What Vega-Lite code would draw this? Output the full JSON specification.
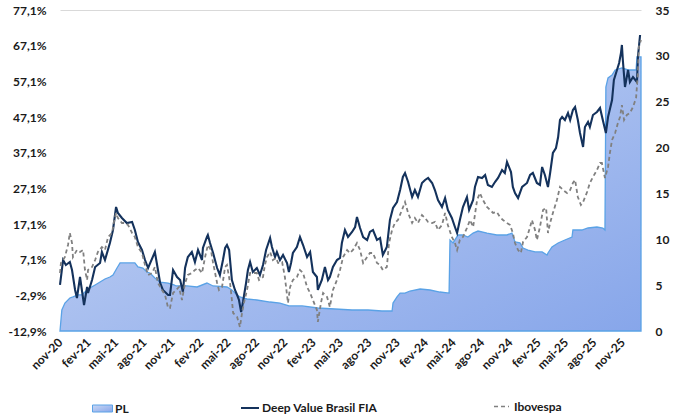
{
  "$schema": "https://vega.github.io/schema/vega-lite/v6.json",
  "width": 581,
  "height": 321,
  "autosize": {"type": "none"},
  "padding": {"left": 60, "top": 10, "right": 41, "bottom": 83},
  "background": "white",
  "config": {
    "view": {"stroke": null},
    "font": "Lato",
    "axis": {"labelFont": "Lato", "labelFontSize": 12, "labelFontWeight": "bold", "labelColor": "#1a1a1a", "ticks": false, "domain": false, "title": null},
    "legend": {"labelFont": "Lato", "labelFontSize": 12, "labelFontWeight": "bold", "labelColor": "#1a1a1a", "padding": 0, "title": null}
  },
  "datasets": {
    "dv": [
      {"date": "2020-11-01", "v": 0.0}, {"date": "2020-11-11", "v": 7.0}, {"date": "2020-11-20", "v": 5.6}, {"date": "2020-12-03", "v": 6.44}, {"date": "2020-12-10", "v": 4.2}, {"date": "2020-12-20", "v": -1.4}, {"date": "2020-12-26", "v": -3.65}, {"date": "2021-01-05", "v": 2.24}, {"date": "2021-01-11", "v": -1.4}, {"date": "2021-01-18", "v": -5.61}, {"date": "2021-01-28", "v": -0.56}, {"date": "2021-01-31", "v": -2.25}, {"date": "2021-02-13", "v": 1.4}, {"date": "2021-02-23", "v": 5.04}, {"date": "2021-03-11", "v": 6.16}, {"date": "2021-03-17", "v": 9.25}, {"date": "2021-03-27", "v": 7.0}, {"date": "2021-04-12", "v": 11.77}, {"date": "2021-04-22", "v": 15.42}, {"date": "2021-05-02", "v": 21.87}, {"date": "2021-05-08", "v": 20.19}, {"date": "2021-05-21", "v": 18.78}, {"date": "2021-06-06", "v": 17.38}, {"date": "2021-06-23", "v": 17.66}, {"date": "2021-07-02", "v": 15.42}, {"date": "2021-07-12", "v": 12.05}, {"date": "2021-07-25", "v": 9.81}, {"date": "2021-08-04", "v": 7.0}, {"date": "2021-08-14", "v": 4.76}, {"date": "2021-09-05", "v": 9.25}, {"date": "2021-09-15", "v": 4.2}, {"date": "2021-09-22", "v": 0.56}, {"date": "2021-10-01", "v": -1.4}, {"date": "2021-10-18", "v": -2.81}, {"date": "2021-10-24", "v": -2.81}, {"date": "2021-11-03", "v": 4.2}, {"date": "2021-11-16", "v": 2.24}, {"date": "2021-11-26", "v": 1.4}, {"date": "2021-12-05", "v": -1.97}, {"date": "2021-12-12", "v": 4.76}, {"date": "2021-12-21", "v": 7.85}, {"date": "2022-01-03", "v": 9.25}, {"date": "2022-01-13", "v": 6.44}, {"date": "2022-01-23", "v": 9.81}, {"date": "2022-02-05", "v": 7.0}, {"date": "2022-02-08", "v": 10.37}, {"date": "2022-02-21", "v": 13.46}, {"date": "2022-02-24", "v": 14.02}, {"date": "2022-03-03", "v": 11.77}, {"date": "2022-03-13", "v": 8.97}, {"date": "2022-03-26", "v": 4.76}, {"date": "2022-04-04", "v": 2.8}, {"date": "2022-04-14", "v": 7.0}, {"date": "2022-04-21", "v": 10.37}, {"date": "2022-04-27", "v": 11.21}, {"date": "2022-05-04", "v": 9.81}, {"date": "2022-05-13", "v": 1.4}, {"date": "2022-05-23", "v": -1.4}, {"date": "2022-05-30", "v": -2.81}, {"date": "2022-06-05", "v": -4.21}, {"date": "2022-06-12", "v": -7.57}, {"date": "2022-06-18", "v": -4.77}, {"date": "2022-06-28", "v": 0.56}, {"date": "2022-07-04", "v": 4.2}, {"date": "2022-07-11", "v": 6.44}, {"date": "2022-07-20", "v": 3.64}, {"date": "2022-08-02", "v": 4.76}, {"date": "2022-08-12", "v": 2.8}, {"date": "2022-08-22", "v": 5.6}, {"date": "2022-09-01", "v": 9.81}, {"date": "2022-09-14", "v": 13.18}, {"date": "2022-09-20", "v": 10.65}, {"date": "2022-09-30", "v": 7.85}, {"date": "2022-10-06", "v": 9.25}, {"date": "2022-10-16", "v": 7.0}, {"date": "2022-10-26", "v": 8.41}, {"date": "2022-11-08", "v": 6.16}, {"date": "2022-11-14", "v": 3.64}, {"date": "2022-11-21", "v": 6.16}, {"date": "2022-11-27", "v": 8.97}, {"date": "2022-12-10", "v": 10.65}, {"date": "2022-12-20", "v": 13.46}, {"date": "2022-12-30", "v": 11.21}, {"date": "2023-01-12", "v": 7.85}, {"date": "2023-01-22", "v": 9.25}, {"date": "2023-01-31", "v": 3.64}, {"date": "2023-02-13", "v": 2.24}, {"date": "2023-02-16", "v": -1.4}, {"date": "2023-03-01", "v": 1.4}, {"date": "2023-03-11", "v": 5.04}, {"date": "2023-03-21", "v": 1.4}, {"date": "2023-03-27", "v": 2.24}, {"date": "2023-04-06", "v": 5.04}, {"date": "2023-04-19", "v": 7.0}, {"date": "2023-04-29", "v": 7.57}, {"date": "2023-05-05", "v": 11.77}, {"date": "2023-05-15", "v": 15.42}, {"date": "2023-05-25", "v": 13.46}, {"date": "2023-06-07", "v": 14.86}, {"date": "2023-06-17", "v": 16.26}, {"date": "2023-06-23", "v": 19.06}, {"date": "2023-07-03", "v": 15.98}, {"date": "2023-07-13", "v": 13.46}, {"date": "2023-07-26", "v": 12.61}, {"date": "2023-08-04", "v": 14.86}, {"date": "2023-08-14", "v": 15.42}, {"date": "2023-08-27", "v": 12.61}, {"date": "2023-09-06", "v": 13.18}, {"date": "2023-09-15", "v": 8.41}, {"date": "2023-09-28", "v": 10.65}, {"date": "2023-10-08", "v": 18.22}, {"date": "2023-10-18", "v": 21.59}, {"date": "2023-10-31", "v": 23.27}, {"date": "2023-11-10", "v": 26.63}, {"date": "2023-11-19", "v": 30.28}, {"date": "2023-11-26", "v": 31.4}, {"date": "2023-12-06", "v": 28.88}, {"date": "2023-12-19", "v": 24.67}, {"date": "2023-12-28", "v": 26.63}, {"date": "2024-01-07", "v": 24.67}, {"date": "2024-01-20", "v": 28.6}, {"date": "2024-01-30", "v": 29.44}, {"date": "2024-02-09", "v": 30.0}, {"date": "2024-02-22", "v": 28.6}, {"date": "2024-03-02", "v": 26.63}, {"date": "2024-03-12", "v": 23.83}, {"date": "2024-03-25", "v": 21.87}, {"date": "2024-04-04", "v": 24.39}, {"date": "2024-04-13", "v": 21.03}, {"date": "2024-04-26", "v": 18.78}, {"date": "2024-05-06", "v": 16.26}, {"date": "2024-05-13", "v": 14.58}, {"date": "2024-05-22", "v": 18.22}, {"date": "2024-06-01", "v": 21.87}, {"date": "2024-06-14", "v": 24.67}, {"date": "2024-06-21", "v": 21.03}, {"date": "2024-07-04", "v": 23.83}, {"date": "2024-07-10", "v": 27.48}, {"date": "2024-07-20", "v": 30.28}, {"date": "2024-08-02", "v": 30.0}, {"date": "2024-08-12", "v": 30.84}, {"date": "2024-08-21", "v": 28.04}, {"date": "2024-09-03", "v": 27.48}, {"date": "2024-09-13", "v": 28.88}, {"date": "2024-09-23", "v": 30.0}, {"date": "2024-10-06", "v": 32.24}, {"date": "2024-10-15", "v": 31.4}, {"date": "2024-10-22", "v": 34.48}, {"date": "2024-11-04", "v": 31.68}, {"date": "2024-11-10", "v": 27.48}, {"date": "2024-11-17", "v": 25.79}, {"date": "2024-11-27", "v": 24.39}, {"date": "2024-12-10", "v": 27.48}, {"date": "2024-12-26", "v": 28.6}, {"date": "2025-01-05", "v": 30.84}, {"date": "2025-01-14", "v": 31.4}, {"date": "2025-01-27", "v": 28.6}, {"date": "2025-02-06", "v": 28.04}, {"date": "2025-02-13", "v": 33.09}, {"date": "2025-02-22", "v": 30.84}, {"date": "2025-03-04", "v": 27.48}, {"date": "2025-03-11", "v": 31.4}, {"date": "2025-03-20", "v": 37.01}, {"date": "2025-03-30", "v": 38.41}, {"date": "2025-04-06", "v": 41.49}, {"date": "2025-04-12", "v": 46.26}, {"date": "2025-04-19", "v": 47.1}, {"date": "2025-04-28", "v": 46.26}, {"date": "2025-05-08", "v": 48.22}, {"date": "2025-05-15", "v": 46.26}, {"date": "2025-05-24", "v": 49.06}, {"date": "2025-05-31", "v": 49.9}, {"date": "2025-06-09", "v": 46.26}, {"date": "2025-06-16", "v": 42.61}, {"date": "2025-06-26", "v": 38.69}, {"date": "2025-07-02", "v": 44.3}, {"date": "2025-07-12", "v": 45.7}, {"date": "2025-07-18", "v": 44.3}, {"date": "2025-07-28", "v": 47.66}, {"date": "2025-08-10", "v": 48.5}, {"date": "2025-08-20", "v": 49.62}, {"date": "2025-08-29", "v": 46.26}, {"date": "2025-09-08", "v": 42.61}, {"date": "2025-09-15", "v": 47.1}, {"date": "2025-09-28", "v": 51.87}, {"date": "2025-10-04", "v": 57.47}, {"date": "2025-10-14", "v": 60.28}, {"date": "2025-10-21", "v": 62.24}, {"date": "2025-10-27", "v": 65.04}, {"date": "2025-10-30", "v": 67.29}, {"date": "2025-11-02", "v": 63.08}, {"date": "2025-11-09", "v": 55.51}, {"date": "2025-11-19", "v": 60.28}, {"date": "2025-11-25", "v": 56.91}, {"date": "2025-12-05", "v": 58.32}, {"date": "2025-12-18", "v": 56.91}, {"date": "2025-12-21", "v": 63.92}, {"date": "2025-12-28", "v": 70.09}
    ],
    "ib": [
      {"date": "2020-11-01", "v": 3.36}, {"date": "2020-11-04", "v": 6.16}, {"date": "2020-11-17", "v": 7.85}, {"date": "2020-11-27", "v": 11.21}, {"date": "2020-12-03", "v": 14.58}, {"date": "2020-12-10", "v": 11.77}, {"date": "2020-12-13", "v": 7.85}, {"date": "2020-12-26", "v": 9.81}, {"date": "2021-01-05", "v": 9.25}, {"date": "2021-01-15", "v": 9.81}, {"date": "2021-01-21", "v": 4.2}, {"date": "2021-01-28", "v": 1.4}, {"date": "2021-01-31", "v": 4.2}, {"date": "2021-02-13", "v": 5.04}, {"date": "2021-02-23", "v": 7.0}, {"date": "2021-03-04", "v": 9.25}, {"date": "2021-03-17", "v": 10.65}, {"date": "2021-03-27", "v": 9.81}, {"date": "2021-04-06", "v": 13.46}, {"date": "2021-04-19", "v": 14.58}, {"date": "2021-04-25", "v": 17.66}, {"date": "2021-05-02", "v": 20.19}, {"date": "2021-05-08", "v": 18.78}, {"date": "2021-05-21", "v": 17.38}, {"date": "2021-05-31", "v": 17.38}, {"date": "2021-06-10", "v": 16.82}, {"date": "2021-06-23", "v": 14.58}, {"date": "2021-07-02", "v": 13.46}, {"date": "2021-07-12", "v": 10.65}, {"date": "2021-07-25", "v": 8.97}, {"date": "2021-08-04", "v": 5.6}, {"date": "2021-08-14", "v": 2.8}, {"date": "2021-08-27", "v": 3.36}, {"date": "2021-09-05", "v": 5.04}, {"date": "2021-09-15", "v": 0.56}, {"date": "2021-09-28", "v": -1.4}, {"date": "2021-10-08", "v": -2.81}, {"date": "2021-10-18", "v": -6.45}, {"date": "2021-10-24", "v": -6.45}, {"date": "2021-11-03", "v": -2.25}, {"date": "2021-11-13", "v": -1.4}, {"date": "2021-11-22", "v": -0.56}, {"date": "2021-12-02", "v": -4.21}, {"date": "2021-12-12", "v": 0.56}, {"date": "2021-12-21", "v": 2.8}, {"date": "2022-01-03", "v": 3.36}, {"date": "2022-01-13", "v": 4.2}, {"date": "2022-01-23", "v": 4.76}, {"date": "2022-02-05", "v": 3.36}, {"date": "2022-02-15", "v": 7.85}, {"date": "2022-02-24", "v": 11.21}, {"date": "2022-03-06", "v": 9.81}, {"date": "2022-03-13", "v": 6.16}, {"date": "2022-03-26", "v": 0.56}, {"date": "2022-04-01", "v": -1.4}, {"date": "2022-04-11", "v": -0.56}, {"date": "2022-04-21", "v": 5.04}, {"date": "2022-04-27", "v": 5.6}, {"date": "2022-05-07", "v": 0.56}, {"date": "2022-05-13", "v": -4.21}, {"date": "2022-05-17", "v": -7.85}, {"date": "2022-05-30", "v": -8.97}, {"date": "2022-06-08", "v": -11.78}, {"date": "2022-06-15", "v": -7.85}, {"date": "2022-06-21", "v": -5.05}, {"date": "2022-07-01", "v": -1.4}, {"date": "2022-07-11", "v": 3.36}, {"date": "2022-07-20", "v": 3.36}, {"date": "2022-08-02", "v": 3.36}, {"date": "2022-08-09", "v": 1.4}, {"date": "2022-08-22", "v": 2.24}, {"date": "2022-08-28", "v": 5.6}, {"date": "2022-09-04", "v": 7.85}, {"date": "2022-09-14", "v": 9.25}, {"date": "2022-09-23", "v": 7.0}, {"date": "2022-10-03", "v": 7.57}, {"date": "2022-10-10", "v": 6.16}, {"date": "2022-10-23", "v": 6.44}, {"date": "2022-11-01", "v": 2.24}, {"date": "2022-11-11", "v": -5.05}, {"date": "2022-11-18", "v": -0.56}, {"date": "2022-11-27", "v": 1.4}, {"date": "2022-12-10", "v": 2.24}, {"date": "2022-12-20", "v": 4.2}, {"date": "2022-12-30", "v": 3.36}, {"date": "2023-01-12", "v": -0.56}, {"date": "2023-01-22", "v": -2.25}, {"date": "2023-01-31", "v": -4.21}, {"date": "2023-02-13", "v": -7.01}, {"date": "2023-02-16", "v": -10.37}, {"date": "2023-02-26", "v": -5.05}, {"date": "2023-03-05", "v": -2.25}, {"date": "2023-03-18", "v": -3.37}, {"date": "2023-03-27", "v": -6.17}, {"date": "2023-04-06", "v": -1.4}, {"date": "2023-04-19", "v": 1.4}, {"date": "2023-04-29", "v": 4.2}, {"date": "2023-05-09", "v": 7.85}, {"date": "2023-05-22", "v": 9.81}, {"date": "2023-05-31", "v": 8.97}, {"date": "2023-06-10", "v": 9.81}, {"date": "2023-06-23", "v": 11.77}, {"date": "2023-07-03", "v": 9.81}, {"date": "2023-07-13", "v": 6.16}, {"date": "2023-07-26", "v": 7.85}, {"date": "2023-08-04", "v": 8.97}, {"date": "2023-08-14", "v": 8.97}, {"date": "2023-08-27", "v": 6.16}, {"date": "2023-09-06", "v": 5.6}, {"date": "2023-09-15", "v": 4.2}, {"date": "2023-09-28", "v": 5.04}, {"date": "2023-10-05", "v": 11.77}, {"date": "2023-10-15", "v": 15.42}, {"date": "2023-10-24", "v": 17.38}, {"date": "2023-11-03", "v": 18.22}, {"date": "2023-11-16", "v": 21.03}, {"date": "2023-11-26", "v": 23.27}, {"date": "2023-12-06", "v": 20.19}, {"date": "2023-12-19", "v": 17.38}, {"date": "2023-12-28", "v": 18.78}, {"date": "2024-01-07", "v": 17.38}, {"date": "2024-01-20", "v": 19.62}, {"date": "2024-01-30", "v": 18.78}, {"date": "2024-02-09", "v": 17.66}, {"date": "2024-02-22", "v": 17.38}, {"date": "2024-03-02", "v": 17.66}, {"date": "2024-03-12", "v": 15.42}, {"date": "2024-03-25", "v": 16.82}, {"date": "2024-04-04", "v": 20.19}, {"date": "2024-04-13", "v": 16.82}, {"date": "2024-04-26", "v": 13.46}, {"date": "2024-05-06", "v": 11.77}, {"date": "2024-05-13", "v": 9.81}, {"date": "2024-05-22", "v": 12.61}, {"date": "2024-06-01", "v": 13.46}, {"date": "2024-06-14", "v": 15.98}, {"date": "2024-06-24", "v": 18.22}, {"date": "2024-07-04", "v": 16.26}, {"date": "2024-07-17", "v": 23.83}, {"date": "2024-07-26", "v": 25.79}, {"date": "2024-08-05", "v": 23.83}, {"date": "2024-08-18", "v": 21.87}, {"date": "2024-08-28", "v": 21.03}, {"date": "2024-09-07", "v": 20.19}, {"date": "2024-09-19", "v": 20.47}, {"date": "2024-09-29", "v": 19.06}, {"date": "2024-10-09", "v": 18.22}, {"date": "2024-10-22", "v": 17.38}, {"date": "2024-11-01", "v": 16.82}, {"date": "2024-11-10", "v": 14.58}, {"date": "2024-11-17", "v": 11.77}, {"date": "2024-11-27", "v": 9.81}, {"date": "2024-12-06", "v": 8.97}, {"date": "2024-12-13", "v": 12.05}, {"date": "2024-12-26", "v": 13.46}, {"date": "2025-01-05", "v": 16.26}, {"date": "2025-01-11", "v": 18.22}, {"date": "2025-01-21", "v": 15.42}, {"date": "2025-01-27", "v": 12.61}, {"date": "2025-02-06", "v": 16.26}, {"date": "2025-02-16", "v": 21.03}, {"date": "2025-02-26", "v": 21.59}, {"date": "2025-03-04", "v": 14.58}, {"date": "2025-03-11", "v": 17.38}, {"date": "2025-03-20", "v": 20.19}, {"date": "2025-04-02", "v": 23.83}, {"date": "2025-04-12", "v": 27.48}, {"date": "2025-04-22", "v": 26.63}, {"date": "2025-05-05", "v": 25.79}, {"date": "2025-05-15", "v": 26.63}, {"date": "2025-05-24", "v": 28.6}, {"date": "2025-05-31", "v": 29.44}, {"date": "2025-06-09", "v": 24.67}, {"date": "2025-06-19", "v": 22.43}, {"date": "2025-06-26", "v": 23.27}, {"date": "2025-07-09", "v": 26.07}, {"date": "2025-07-18", "v": 28.6}, {"date": "2025-07-28", "v": 30.28}, {"date": "2025-08-10", "v": 32.24}, {"date": "2025-08-20", "v": 34.2}, {"date": "2025-08-26", "v": 34.2}, {"date": "2025-09-05", "v": 30.0}, {"date": "2025-09-15", "v": 33.09}, {"date": "2025-09-21", "v": 37.01}, {"date": "2025-09-28", "v": 40.65}, {"date": "2025-10-08", "v": 42.61}, {"date": "2025-10-17", "v": 45.42}, {"date": "2025-10-24", "v": 47.1}, {"date": "2025-10-30", "v": 50.46}, {"date": "2025-11-06", "v": 46.26}, {"date": "2025-11-15", "v": 47.66}, {"date": "2025-11-25", "v": 48.22}, {"date": "2025-12-05", "v": 49.9}, {"date": "2025-12-15", "v": 52.43}, {"date": "2025-12-21", "v": 59.44}, {"date": "2025-12-24", "v": 66.73}, {"date": "2025-12-31", "v": 68.69}
    ],
    "pl": [
      {"date": "2020-11-01", "pl": 0}, {"date": "2020-11-07", "pl": 2.29}, {"date": "2020-11-17", "pl": 3.05}, {"date": "2020-12-03", "pl": 3.6}, {"date": "2020-12-13", "pl": 3.71}, {"date": "2020-12-29", "pl": 3.93}, {"date": "2021-01-11", "pl": 3.93}, {"date": "2021-01-21", "pl": 4.25}, {"date": "2021-02-06", "pl": 4.69}, {"date": "2021-02-23", "pl": 5.02}, {"date": "2021-03-11", "pl": 5.34}, {"date": "2021-03-27", "pl": 5.67}, {"date": "2021-04-12", "pl": 5.89}, {"date": "2021-04-22", "pl": 6.11}, {"date": "2021-05-05", "pl": 6.87}, {"date": "2021-05-15", "pl": 7.42}, {"date": "2021-05-31", "pl": 7.42}, {"date": "2021-06-16", "pl": 7.42}, {"date": "2021-07-02", "pl": 7.42}, {"date": "2021-07-12", "pl": 6.98}, {"date": "2021-07-28", "pl": 6.87}, {"date": "2021-08-10", "pl": 6.43}, {"date": "2021-08-20", "pl": 6.32}, {"date": "2021-09-05", "pl": 5.78}, {"date": "2021-09-22", "pl": 5.34}, {"date": "2021-10-18", "pl": 5.23}, {"date": "2021-11-06", "pl": 5.02}, {"date": "2021-11-13", "pl": 4.91}, {"date": "2021-12-18", "pl": 4.91}, {"date": "2022-01-20", "pl": 4.8}, {"date": "2022-02-21", "pl": 5.23}, {"date": "2022-03-13", "pl": 4.91}, {"date": "2022-04-27", "pl": 4.8}, {"date": "2022-05-13", "pl": 4.47}, {"date": "2022-05-30", "pl": 3.93}, {"date": "2022-06-08", "pl": 3.71}, {"date": "2022-06-18", "pl": 3.6}, {"date": "2022-07-01", "pl": 3.49}, {"date": "2022-08-02", "pl": 3.38}, {"date": "2022-09-14", "pl": 3.16}, {"date": "2022-10-16", "pl": 3.05}, {"date": "2022-11-14", "pl": 2.73}, {"date": "2022-12-27", "pl": 2.73}, {"date": "2023-02-16", "pl": 2.51}, {"date": "2023-04-13", "pl": 2.4}, {"date": "2023-06-07", "pl": 2.29}, {"date": "2023-07-29", "pl": 2.29}, {"date": "2023-09-12", "pl": 2.18}, {"date": "2023-10-15", "pl": 2.18}, {"date": "2023-10-18", "pl": 3.05}, {"date": "2023-10-31", "pl": 3.71}, {"date": "2023-11-10", "pl": 4.14}, {"date": "2023-11-26", "pl": 4.14}, {"date": "2023-12-12", "pl": 4.36}, {"date": "2024-01-14", "pl": 4.58}, {"date": "2024-02-15", "pl": 4.47}, {"date": "2024-03-18", "pl": 4.25}, {"date": "2024-04-17", "pl": 4.14}, {"date": "2024-04-20", "pl": 9.92}, {"date": "2024-04-30", "pl": 9.6}, {"date": "2024-05-16", "pl": 10.47}, {"date": "2024-06-01", "pl": 10.47}, {"date": "2024-06-17", "pl": 10.25}, {"date": "2024-07-04", "pl": 10.68}, {"date": "2024-07-20", "pl": 10.9}, {"date": "2024-08-18", "pl": 10.68}, {"date": "2024-09-19", "pl": 10.47}, {"date": "2024-10-22", "pl": 10.47}, {"date": "2024-11-07", "pl": 10.68}, {"date": "2024-11-17", "pl": 9.71}, {"date": "2024-12-03", "pl": 9.6}, {"date": "2024-12-13", "pl": 9.05}, {"date": "2024-12-29", "pl": 8.83}, {"date": "2025-01-21", "pl": 8.62}, {"date": "2025-02-13", "pl": 8.62}, {"date": "2025-03-01", "pl": 8.29}, {"date": "2025-03-04", "pl": 8.51}, {"date": "2025-03-17", "pl": 9.16}, {"date": "2025-04-06", "pl": 9.6}, {"date": "2025-04-28", "pl": 9.92}, {"date": "2025-05-21", "pl": 10.25}, {"date": "2025-05-24", "pl": 11.01}, {"date": "2025-06-22", "pl": 11.01}, {"date": "2025-07-12", "pl": 11.23}, {"date": "2025-08-10", "pl": 11.34}, {"date": "2025-08-29", "pl": 11.23}, {"date": "2025-09-05", "pl": 11.01}, {"date": "2025-09-08", "pl": 26.6}, {"date": "2025-09-15", "pl": 27.59}, {"date": "2025-09-28", "pl": 27.91}, {"date": "2025-10-08", "pl": 28.46}, {"date": "2025-10-30", "pl": 28.68}, {"date": "2025-11-19", "pl": 28.46}, {"date": "2025-12-15", "pl": 28.46}, {"date": "2025-12-18", "pl": 29.88}, {"date": "2025-12-31", "pl": 29.88}
    ]
  },
  "encoding": {
    "x": {
      "field": "date",
      "type": "temporal",
      "scale": {"domain": [{"year": 2020, "month": 11, "date": 1}, {"year": 2025, "month": 12, "date": 31}]},
      "axis": {
        "values": [
          {"year": 2020, "month": 11, "date": 1}, {"year": 2021, "month": 2, "date": 1}, {"year": 2021, "month": 5, "date": 1}, {"year": 2021, "month": 8, "date": 1},
          {"year": 2021, "month": 11, "date": 1}, {"year": 2022, "month": 2, "date": 1}, {"year": 2022, "month": 5, "date": 1}, {"year": 2022, "month": 8, "date": 1},
          {"year": 2022, "month": 11, "date": 1}, {"year": 2023, "month": 2, "date": 1}, {"year": 2023, "month": 5, "date": 1}, {"year": 2023, "month": 8, "date": 1},
          {"year": 2023, "month": 11, "date": 1}, {"year": 2024, "month": 2, "date": 1}, {"year": 2024, "month": 5, "date": 1}, {"year": 2024, "month": 8, "date": 1},
          {"year": 2024, "month": 11, "date": 1}, {"year": 2025, "month": 2, "date": 1}, {"year": 2025, "month": 5, "date": 1}, {"year": 2025, "month": 8, "date": 1},
          {"year": 2025, "month": 11, "date": 1}
        ],
        "labelExpr": "['jan','fev','mar','abr','mai','jun','jul','ago','set','out','nov','dez'][month(datum.value)] + '-' + timeFormat(datum.value, '%y')",
        "labelAngle": -45,
        "labelAlign": "right",
        "labelBaseline": "middle",
        "labelPadding": 9,
        "labelOverlap": false,
        "grid": false
      }
    }
  },
  "layer": [
    {
      "data": {"name": "pl"},
      "mark": {
        "type": "area",
        "fill": {"gradient": "linear", "x1": 0, "y1": 0, "x2": 1, "y2": 1, "stops": [{"offset": 0, "color": "#c9d7f4"}, {"offset": 1, "color": "#87a6ea"}]},
        "strokeWidth": 1.3,
        "fillOpacity": 1
      },
      "encoding": {
        "y": {
          "field": "pl",
          "type": "quantitative",
          "scale": {"domain": [0, 35], "nice": false, "zero": false},
          "axis": {"orient": "right", "values": [0, 5, 10, 15, 20, 25, 30, 35], "labelPadding": 14, "grid": false}
        },
        "stroke": {
          "datum": "PL",
          "scale": {"range": ["#5aa2e6"]},
          "legend": {"orient": "none", "legendX": 32, "legendY": 388, "symbolType": "M-1,-0.35H1V0.35H-1Z", "symbolSize": 400, "symbolStrokeWidth": 1, "symbolFillColor": "#b3c6f0", "labelOffset": 2}
        }
      }
    },
    {
      "data": {"name": "dv"},
      "mark": {"type": "line", "strokeWidth": 2.1},
      "encoding": {
        "y": {
          "field": "v",
          "type": "quantitative",
          "scale": {"domain": [-12.9, 77.1], "nice": false, "zero": false},
          "axis": {
            "orient": "left",
            "values": [-12.9, -2.9, 7.1, 17.1, 27.1, 37.1, 47.1, 57.1, 67.1, 77.1],
            "labelExpr": "(datum.value < 0 ? '-' : '') + replace(format(abs(datum.value), '.1f'), '.', ',') + '%'",
            "labelPadding": 14,
            "grid": true,
            "gridColor": "#d9d9d9",
            "gridOpacity": {"condition": {"test": "datum.value > 77", "value": 1}, "value": 0}
          }
        },
        "color": {
          "datum": "Deep Value Brasil FIA",
          "scale": {"range": ["#14325c"]},
          "legend": {"orient": "none", "legendX": 180, "legendY": 388, "symbolType": "stroke", "symbolSize": 324, "symbolStrokeWidth": 2, "labelOffset": 2}
        }
      }
    },
    {
      "data": {"name": "ib"},
      "mark": {"type": "line", "strokeWidth": 1.8, "color": "#808080"},
      "encoding": {
        "y": {
          "field": "v",
          "type": "quantitative",
          "scale": {"domain": [-12.9, 77.1], "nice": false, "zero": false},
          "axis": null
        },
        "strokeDash": {
          "datum": "Ibovespa",
          "scale": {"range": [[4, 3]]},
          "legend": {"orient": "none", "legendX": 433, "legendY": 388, "symbolType": "stroke", "symbolSize": 225, "symbolStrokeWidth": 1.5, "symbolStrokeColor": "#808080", "labelOffset": 4}
        }
      }
    }
  ],
  "resolve": {"scale": {"y": "independent"}}
}
